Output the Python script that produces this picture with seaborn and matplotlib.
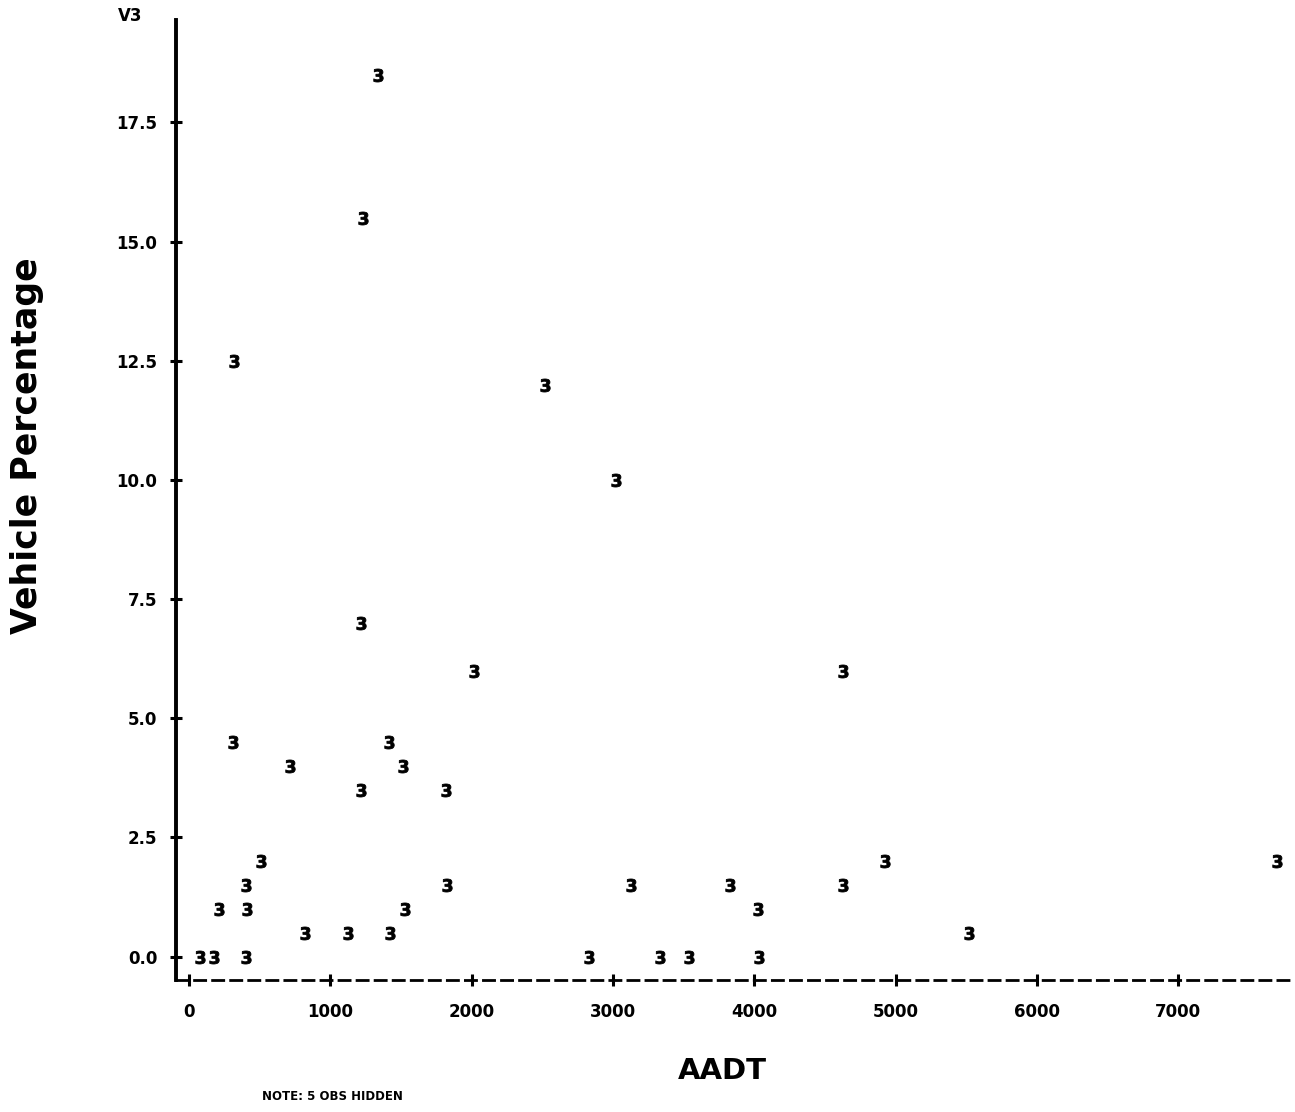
import matplotlib
matplotlib.use("Agg")
import matplotlib.pyplot as plt
from matplotlib import font_manager
import seaborn as sns
import pandas as pd

# AADT (x) and vehicle percentage (y) for each plotted "3"
aadt = [1335, 1229, 316, 2515, 3022, 1218, 2013, 4624, 314, 1411,
        715, 1515, 1215, 1817, 507, 406, 4924, 7698, 1822, 3124,
        3825, 4624, 212, 411, 1529, 4027, 819, 1123, 1421, 5518,
        80, 179, 406, 2827, 3329, 3534, 4029]
pct = [18.5, 15.5, 12.5, 12.0, 10.0, 7.0, 6.0, 6.0, 4.5, 4.5,
       4.0, 4.0, 3.5, 3.5, 2.0, 1.5, 2.0, 2.0, 1.5, 1.5,
       1.5, 1.5, 1.0, 1.0, 1.0, 1.0, 0.5, 0.5, 0.5, 0.5,
       0.0, 0.0, 0.0, 0.0, 0.0, 0.0, 0.0]

x_ticks = [0, 1000, 2000, 3000, 4000, 5000, 6000, 7000]
y_ticks = [0.0, 2.5, 5.0, 7.5, 10.0, 12.5, 15.0, 17.5]

df = pd.DataFrame({"AADT": aadt, "V3": pct})

sns.set_style("white")
plt.rcParams["font.family"] = ["DejaVu Sans"]
plt.rcParams["font.weight"] = "bold"
plt.rcParams["text.color"] = "black"
plt.rcParams["axes.labelcolor"] = "black"

names = {f.name for f in font_manager.fontManager.ttflist}
narrow = "Liberation Sans Narrow" if "Liberation Sans Narrow" in names else "DejaVu Sans"

fig = plt.figure(figsize=(12.95, 11.12), dpi=100)
ax = fig.add_axes([0.1361, 0.1183, 0.8639, 0.8634])

sns.scatterplot(data=df, x="AADT", y="V3", marker=r"$\mathbf{3}$", s=88,
                color="black", edgecolor="black", linewidth=0.6, ax=ax,
                legend=False, clip_on=False)

ax.set_xlim(-91, 7825)
ax.set_ylim(-0.5, 19.64)

ax.set_xticks(x_ticks)
ax.set_xticklabels([str(v) for v in x_ticks])
ax.set_yticks(y_ticks)
ax.set_yticklabels(["%.1f" % v for v in y_ticks])

for s in ["top", "right"]:
    ax.spines[s].set_visible(False)
ax.spines["left"].set_linewidth(2.8)
ax.spines["left"].set_color("black")
ax.spines["bottom"].set_linewidth(2.0)
ax.spines["bottom"].set_color("black")
ax.spines["bottom"].set_linestyle((0, (4, 2.5)))

ax.tick_params(axis="both", which="major", bottom=True, left=True,
               direction="inout", length=9, width=2.2, color="black",
               labelsize=12, labelcolor="black")
ax.tick_params(axis="y", pad=9)
ax.tick_params(axis="x", pad=12)
for lab in ax.get_xticklabels() + ax.get_yticklabels():
    lab.set_fontweight("bold")

ax.set_xlabel("AADT", fontsize=21, fontweight="bold", color="black")
ax.xaxis.set_label_coords((722 - 176) / 1119, -(1057 - 980) / 960)
ax.set_ylabel("Vehicle Percentage", fontsize=25, fontweight="heavy",
              color="black")
ax.yaxis.set_label_coords(-(176 - 44) / 1119, (980 - 445) / 960)

fig.text(130 / 1295, 1 - 16 / 1112, "V3", fontsize=12, fontweight="bold",
         ha="center", va="center", color="black")
fig.text(262 / 1295, 1 - 1097 / 1112, "NOTE: 5 OBS HIDDEN", fontsize=8.5,
         fontweight="bold", family=[narrow], ha="left", va="center",
         color="black")

fig.savefig("out.png", dpi=100, facecolor="white")
